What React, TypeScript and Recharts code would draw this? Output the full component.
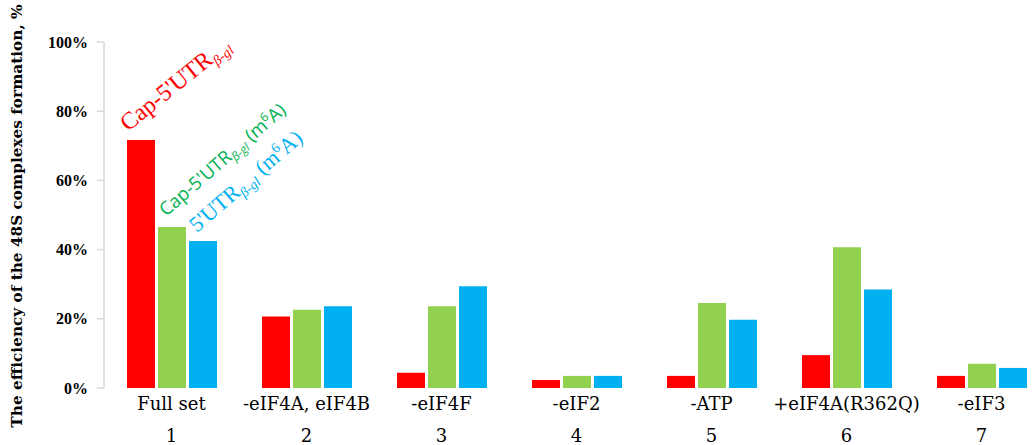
import React from "react";
import { BarChart, Bar, XAxis, YAxis, LabelList } from "recharts";

const conditions = ["Full set", "-eIF4A, eIF4B", "-eIF4F", "-eIF2", "-ATP", "+eIF4A(R362Q)", "-eIF3"];
const laneNumbers = ["1", "2", "3", "4", "5", "6", "7"];
const capUtr = [71.7, 20.7, 4.4, 2.3, 3.5, 9.5, 3.5];
const capUtrM6a = [46.5, 22.6, 23.6, 3.5, 24.6, 40.7, 7.0];
const utrM6a = [42.5, 23.6, 29.4, 3.5, 19.7, 28.5, 5.8];
const yTicks = [0, 20, 40, 60, 80, 100];
const yTitle = "The efficiency of the 48S complexes formation, %";

const data = conditions.map((name, i) => ({
  name,
  lane: laneNumbers[i],
  capUtr: capUtr[i],
  capUtrM6a: capUtrM6a[i],
  utrM6a: utrM6a[i],
}));

const RED = "#FF0000";
const GREEN = "#92D050";
const BLUE = "#00B0F0";

const XTick = (props: any) => {
  const { x, y, payload, index } = props;
  return (
    <g>
      <text x={x} y={y + 22} textAnchor="middle" fontFamily="DejaVu Serif" fontSize={18} fill="#000">
        {payload.value}
      </text>
      <text x={x} y={y + 54} textAnchor="middle" fontFamily="DejaVu Serif" fontSize={18} fill="#000">
        {laneNumbers[index]}
      </text>
    </g>
  );
};

// rotated series name, drawn only above the first group
const makeLabel = (kind: "red" | "green" | "blue") => (props: any) => {
  const { x, y, index } = props;
  if (index !== 0) return null;
  if (kind === "red") {
    return (
      <g transform={`translate(${x + 1},${y - 8}) rotate(-39)`}>
        <text fontFamily="Liberation Serif" fontSize={24} fill={RED}>
          Cap-5'UTR
          <tspan fontSize={14} fontStyle="italic" dy={5}>β-gl</tspan>
        </text>
      </g>
    );
  }
  if (kind === "green") {
    return (
      <g transform={`translate(${x + 8},${y - 10}) rotate(-41)`}>
        <text fontFamily="Open Sans" fontSize={18.5} fill="#00B050">
          Cap-5'UTR
          <tspan fontSize={12} fontStyle="italic" dy={4}>β-gl</tspan>
          <tspan dy={-4}> (m</tspan>
          <tspan fontSize={12} dy={-7}>6</tspan>
          <tspan dy={7}>A)</tspan>
        </text>
      </g>
    );
  }
  return (
    <g transform={`translate(${x + 8},${y - 8}) rotate(-41)`}>
      <text fontFamily="Liberation Serif" fontSize={22} fill={BLUE}>
        5'UTR
        <tspan fontSize={14} fontStyle="italic" dy={5}>β-gl</tspan>
        <tspan dy={-5}> (m</tspan>
        <tspan fontSize={14} dy={-8}>6</tspan>
        <tspan dy={8}>A)</tspan>
      </text>
    </g>
  );
};

const YTitle = (props: any) => {
  const { viewBox } = props;
  const cy = viewBox.y + viewBox.height / 2 + 1;
  return (
    <text
      x={22}
      y={cy}
      transform={`rotate(-90, 22, ${cy})`}
      textAnchor="middle"
      fontFamily="DejaVu Serif"
      fontWeight="bold"
      fontSize={15.3}
      fill="#000"
    >
      {yTitle}
    </text>
  );
};

export default function App() {
  return (
    <div style={{ position: "absolute", left: 0, top: 0, width: 1033, height: 445, overflow: "hidden", background: "#fff" }}>
      <BarChart
        width={1049}
        height={445}
        data={data}
        margin={{ top: 42, right: 0, bottom: 0, left: 0 }}
        barSize={28}
        barGap={3}
      >
        <XAxis
          dataKey="name"
          axisLine={false}
          tickLine={false}
          tickSize={0}
          tickMargin={0}
          height={57}
          interval={0}
          tick={<XTick />}
        />
        <YAxis
          width={104}
          domain={[0, 100]}
          ticks={yTicks}
          tickFormatter={(v: number) => `${v}%`}
          axisLine={{ stroke: "#D9D9D9", strokeWidth: 1.5 }}
          tickLine={{ stroke: "#D9D9D9", strokeWidth: 1.5 }}
          tickSize={7}
          tickMargin={9}
          tick={{ fontFamily: "Liberation Serif", fontWeight: "bold", fontSize: 16, fill: "#000" }}
          label={<YTitle />}
        />
        <Bar dataKey="capUtr" fill={RED} isAnimationActive={false}>
          <LabelList dataKey="capUtr" content={makeLabel("red")} />
        </Bar>
        <Bar dataKey="capUtrM6a" fill={GREEN} isAnimationActive={false}>
          <LabelList dataKey="capUtrM6a" content={makeLabel("green")} />
        </Bar>
        <Bar dataKey="utrM6a" fill={BLUE} isAnimationActive={false}>
          <LabelList dataKey="utrM6a" content={makeLabel("blue")} />
        </Bar>
      </BarChart>
    </div>
  );
}
